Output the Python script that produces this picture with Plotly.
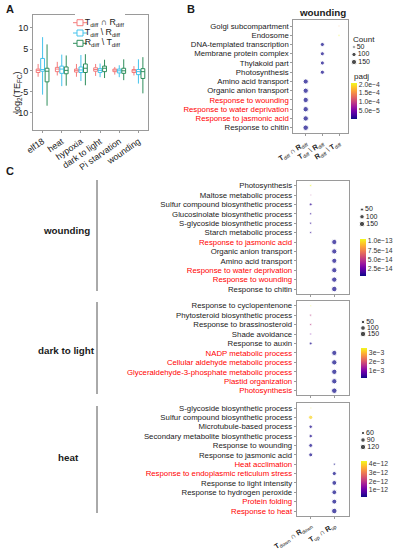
import plotly.graph_objects as go
import math

W, H = 394, 550
FONT = "Liberation Sans, Arial, sans-serif"
FRAME = "#9a9a9a"
TXT = "#1a1a1a"
RED = "#ff0000"
TERM_FS = 7.8
ANGLE = -35
DOT_ANGLE = -32


def fx(px):
    return px / W


def fy(py):
    return 1 - py / H


# ---------------- Panel A data ----------------
conditions = ["elf18", "heat", "hypoxia", "dark to light", "Pi starvation", "wounding"]
set_labels = ["T<sub>diff</sub> ∩ R<sub>diff</sub>",
              "T<sub>diff</sub> \\ R<sub>diff</sub>",
              "R<sub>diff</sub> \\ T<sub>diff</sub>"]

inter_low = [-1.5, -1.2, -1.5, -1.3, -1.0, -1.2]
inter_q1 = [-0.5, -0.3, -0.4, -0.2, -0.3, -0.5]
inter_med = [0.0, 0.3, 0.0, 0.2, 0.1, -0.1]
inter_q3 = [0.3, 0.7, 0.3, 0.6, 0.3, 0.2]
inter_high = [1.5, 2.0, 1.5, 1.5, 0.8, 1.0]

tonly_low = [-5.7, -3.7, -2.5, -1.6, -1.6, -3.1]
tonly_q1 = [-0.2, -0.7, -0.5, -0.5, -0.6, -1.0]
tonly_med = [0.2, 0.3, 0.1, 0.0, -0.1, -0.3]
tonly_q3 = [2.8, 1.0, 0.8, 0.4, 0.3, 0.2]
tonly_high = [7.8, 3.7, 3.6, 1.6, 1.2, 2.6]

ronly_low = [-8.3, -3.6, -3.5, -1.8, -2.3, -5.4]
ronly_q1 = [-2.7, -0.8, -0.5, -0.3, -0.7, -1.9]
ronly_med = [-0.2, 0.0, 0.5, 0.5, -0.1, -0.3]
ronly_q3 = [0.5, 0.8, 1.5, 1.0, 0.5, 0.4]
ronly_high = [6.1, 3.5, 3.8, 2.5, 2.6, 3.1]

a_ticks = [-10, -5, 0, 5, 10]

# ---------------- Panel B data ----------------
b_sets = ["Tdiff∩Rdiff", "Tdiff\\Rdiff", "Rdiff\\Tdiff"]
b_set_labels = ["<b>T</b><sub>diff</sub> ∩ <b>R</b><sub>diff</sub>",
                "<b>T</b><sub>diff</sub> \\ <b>R</b><sub>diff</sub>",
                "<b>R</b><sub>diff</sub> \\ <b>T</b><sub>diff</sub>"]
b_terms = ["Golgi subcompartment", "Endosome", "DNA-templated transcription",
           "Membrane protein complex", "Thylakoid part", "Photosynthesis",
           "Amino acid transport", "Organic anion transport", "Response to wounding",
           "Response to water deprivation", "Response to jasmonic acid", "Response to chitin"]
b_group = ["Rdiff\\Tdiff", "Rdiff\\Tdiff", "Tdiff\\Rdiff", "Tdiff\\Rdiff", "Tdiff\\Rdiff",
           "Tdiff\\Rdiff", "Tdiff∩Rdiff", "Tdiff∩Rdiff", "Tdiff∩Rdiff", "Tdiff∩Rdiff",
           "Tdiff∩Rdiff", "Tdiff∩Rdiff"]
b_count = [38, 40, 95, 92, 95, 98, 150, 155, 160, 162, 160, 170]
b_padj = [1.6e-4, 2.07e-4, 1e-6, 2e-6, 2e-6, 2e-6, 1e-6, 1e-6, 1e-6, 1e-6, 1e-6, 1e-6]
b_red = [0, 0, 0, 0, 0, 0, 0, 0, 1, 1, 1, 0]
b_count_legend = [50, 100, 150]
b_cb_ticks = [5e-5, 1e-4, 1.5e-4, 2e-4]

# ---------------- Panel C data ----------------
c_sets = ["down", "up"]
c_set_labels = ["<b>T</b><sub>down</sub> ∩ <b>R</b><sub>down</sub>",
                "<b>T</b><sub>up</sub> ∩ <b>R</b><sub>up</sub>"]

cw_terms = ["Photosynthesis", "Maltose metabolic process", "Sulfur compound biosynthetic process",
            "Glucosinolate biosynthetic process", "S-glycoside biosynthetic process",
            "Starch metabolic process", "Response to jasmonic acid", "Organic anion transport",
            "Amino acid transport", "Response to water deprivation", "Response to wounding",
            "Response to chitin"]
cw_group = ["down"] * 6 + ["up"] * 6
cw_count = [28, 25, 42, 30, 30, 28, 150, 145, 140, 150, 155, 165]
cw_padj = [1.05e-13, 4.5e-14, 1.2e-14, 1.2e-14, 1.2e-14, 1.2e-14,
           7e-15, 7e-15, 7e-15, 7e-15, 7e-15, 7e-15]
cw_red = [0, 0, 0, 0, 0, 0, 1, 0, 0, 1, 1, 0]
cw_count_legend = [50, 100, 150]
cw_cb_ticks = [2.5e-14, 5e-14, 7.5e-14, 1e-13]

cd_terms = ["Response to cyclopentenone", "Phytosteroid biosynthetic process",
            "Response to brassinosteroid", "Shade avoidance", "Response to auxin",
            "NADP metabolic process", "Cellular aldehyde metabolic process",
            "Glyceraldehyde-3-phosphate metabolic process", "Plastid organization",
            "Photosynthesis"]
cd_group = ["down"] * 5 + ["up"] * 5
cd_count = [15, 18, 18, 16, 30, 130, 140, 140, 140, 150]
cd_padj = [3.55e-3, 1.7e-3, 1.7e-3, 1.0e-3, 3e-4, 2.2e-4, 2.2e-4, 2.2e-4, 2.2e-4, 2.2e-4]
cd_red = [0, 0, 0, 0, 0, 1, 1, 1, 1, 1]
cd_count_legend = [50, 100, 150]
cd_cb_ticks = [1e-3, 2e-3, 3e-3]

ch_terms = ["S-glycoside biosynthetic process", "Sulfur compound biosynthetic process",
            "Microtubule-based process", "Secondary metabolite biosynthetic process",
            "Response to wounding", "Response to jasmonic acid", "Heat acclimation",
            "Response to endoplasmic reticulum stress", "Response to light intensity",
            "Response to hydrogen peroxide", "Protein folding", "Response to heat"]
ch_group = ["down"] * 6 + ["up"] * 6
ch_count = [45, 85, 65, 65, 75, 75, 48, 80, 100, 100, 105, 125]
ch_padj = [4.3e-12, 4.0e-12, 3e-13, 3e-13, 2.5e-13, 2.5e-13,
           2e-13, 2e-13, 2e-13, 2e-13, 2e-13, 2e-13]
ch_red = [0, 0, 0, 0, 0, 0, 1, 1, 0, 0, 1, 1]
ch_count_legend = [60, 90, 120]
ch_cb_ticks = [1e-12, 2e-12, 3e-12, 4e-12]

# ---------------- figure ----------------
fig = go.Figure()
layout_axes = {}
annotations = []
shapes = []

# ----- Panel A -----
a_colors = ["#f47c7c", "#45c3ec", "#2f8e5c"]
a_stats = [
    (inter_low, inter_q1, inter_med, inter_q3, inter_high),
    (tonly_low, tonly_q1, tonly_med, tonly_q3, tonly_high),
    (ronly_low, ronly_q1, ronly_med, ronly_q3, ronly_high),
]
for k, (lo, q1, md, q3, hi) in enumerate(a_stats):
    fig.add_trace(go.Box(
        x=conditions, lowerfence=lo, q1=q1, median=md, q3=q3, upperfence=hi,
        name=set_labels[k], offsetgroup=str(k), fillcolor="white",
        line=dict(color=a_colors[k], width=1), marker=dict(color=a_colors[k]),
        whiskerwidth=0, boxpoints=False, showlegend=False, hoverinfo="skip",
        xaxis="x", yaxis="y"))

layout_axes["xaxis"] = dict(domain=[fx(33), fx(148)], anchor="y", showgrid=False, zeroline=False,
                            showline=True, mirror=True, linecolor=FRAME, linewidth=1,
                            ticks="outside", ticklen=2, tickcolor=FRAME, tickangle=ANGLE,
                            tickfont=dict(size=8.8, color=TXT), categoryorder="array",
                            categoryarray=conditions)
layout_axes["yaxis"] = dict(domain=[fy(130), fy(15)], anchor="x", range=[-14, 13],
                            tickvals=a_ticks, ticktext=[str(t) for t in a_ticks],
                            showgrid=False, zeroline=False, showline=True, mirror=True,
                            linecolor=FRAME, linewidth=1, ticks="outside", ticklen=2,
                            tickcolor=FRAME, tickfont=dict(size=9, color=TXT))

annotations.append(dict(text="log<sub>2</sub>(TE<sub>FC</sub>)", x=fx(10), y=fy(70), xref="paper",
                        yref="paper", showarrow=False, textangle=-90,
                        font=dict(size=9, color=TXT)))


def next_axes(i):
    return "xaxis%d" % i, "yaxis%d" % i, "x%d" % i, "y%d" % i


def small_axes(ax, x_px, left_pad, right_pad, y_first, y_last, n):
    """Invisible helper axes, 5 px per x unit, item 0 at y_first (top)."""
    xk, yk, xr, yr = next_axes(ax)
    s = (y_last - y_first) / (n - 1)
    x0 = max(0, x_px - left_pad)
    x1 = min(W, x_px + right_pad)
    layout_axes[xk] = dict(domain=[fx(x0), fx(x1)], range=[(x0 - x_px) / 5, (x1 - x_px) / 5],
                           visible=False, anchor=yr, fixedrange=True)
    layout_axes[yk] = dict(domain=[fy(y_last + s), fy(y_first - s)], range=[-1, n],
                           visible=False, anchor=xr, fixedrange=True)
    return xr, yr, [n - 1 - i for i in range(n)]


# ----- legend for A (drawn on its own small axes) -----
def a_legend(ax, x_px, y_first, y_last):
    n = len(set_labels)
    xr, yr, ys = small_axes(ax, x_px, 5, 45, y_first, y_last, n)
    for i in range(n):
        fig.add_trace(go.Scatter(x=[0], y=[ys[i]], mode="markers", xaxis=xr, yaxis=yr,
                                 marker=dict(symbol="line-ew", size=10,
                                             line=dict(color=a_colors[i], width=1)),
                                 showlegend=False, hoverinfo="skip", cliponaxis=False))
        fig.add_trace(go.Scatter(x=[0], y=[ys[i]], mode="markers+text", xaxis=xr, yaxis=yr,
                                 marker=dict(symbol="square", size=6, color="white",
                                             line=dict(color=a_colors[i], width=1)),
                                 text=[set_labels[i]], textposition="middle right",
                                 textfont=dict(size=8.8, color=TXT),
                                 showlegend=False, hoverinfo="skip", cliponaxis=False))


a_legend(6, 80, 22.7, 43.3)


# ----- dot panels -----
def dot_size(c, lo, hi):
    t = max(0.0, (c - lo) / (hi - lo))
    return 1.5 + 4.0 * math.sqrt(t)


def dot_panel(ax, terms, groups, sets, set_ticktext, counts, padj, red, frame, rows, cols,
              cb, show_x):
    xk, yk, xr, yr = next_axes(ax)
    fl, ft, fr, fb = frame
    r0, r1 = rows
    c0, c1 = cols
    n = len(terms)
    m = len(sets)
    sy = (r1 - r0) / (n - 1)
    sx = (c1 - c0) / (m - 1)
    yrng = [-(fb - r1) / sy, (n - 1) + (r0 - ft) / sy]
    xrng = [-(c0 - fl) / sx, (m - 1) + (fr - c1) / sx]
    ypos = [n - 1 - i for i in range(n)]
    xpos = [sets.index(g) for g in groups]
    lo, hi = min(counts), max(counts)
    sizes = [dot_size(c, lo, hi) for c in counts]
    ticktext = ['<span style="color:%s">%s</span>' % (RED, t) if r else t
                for t, r in zip(terms, red)]
    cmin, cmax, ticks, fmt, cbx, cbtop, cbbot = cb
    fig.add_trace(go.Scatter(
        x=xpos, y=ypos, mode="markers", xaxis=xr, yaxis=yr, showlegend=False,
        hoverinfo="skip",
        marker=dict(size=sizes, color=padj, colorscale="Plasma", cmin=cmin, cmax=cmax,
                    showscale=True,
                    colorbar=dict(x=fx(cbx), xanchor="left", y=fy(cbtop), yanchor="top",
                                  len=cbbot - cbtop, lenmode="pixels", thickness=6,
                                  xpad=0, ypad=0, outlinewidth=0, ticks="",
                                  tickvals=ticks, tickformat=fmt,
                                  tickfont=dict(size=6.8, color="#333333")))))
    layout_axes[xk] = dict(domain=[fx(fl), fx(fr)], anchor=yr, range=xrng,
                           tickvals=list(range(m)), ticktext=set_ticktext,
                           showticklabels=show_x, tickangle=DOT_ANGLE,
                           tickfont=dict(size=7.2, color=TXT),
                           showgrid=False, zeroline=False, showline=True, mirror=True,
                           linecolor=FRAME, linewidth=1, ticks="outside", ticklen=2,
                           tickcolor=FRAME)
    layout_axes[yk] = dict(domain=[fy(fb), fy(ft)], anchor=xr, range=yrng,
                           tickvals=ypos, ticktext=ticktext,
                           tickfont=dict(size=TERM_FS, color=TXT),
                           showgrid=False, zeroline=False, showline=True, mirror=True,
                           linecolor=FRAME, linewidth=1, ticks="outside", ticklen=2,
                           tickcolor=FRAME)
    return lo, hi


def size_legend(ax, values, lo, hi, x_px, y_first, y_last):
    n = len(values)
    xr, yr, ys = small_axes(ax, x_px, 5, 25, y_first, y_last, n)
    fig.add_trace(go.Scatter(
        x=[0] * n, y=ys, mode="markers+text", xaxis=xr, yaxis=yr,
        marker=dict(size=[dot_size(v, lo, hi) for v in values], color="black"),
        text=[str(v) for v in values], textposition="middle right",
        textfont=dict(size=7, color=TXT), showlegend=False, hoverinfo="skip",
        cliponaxis=False))


# B
lo, hi = dot_panel(2, b_terms, b_group, b_sets, b_set_labels, b_count, b_padj, b_red,
                   frame=(293.3, 20, 348.3, 133.3), rows=(26, 127.7), cols=(305.7, 339),
                   cb=(0, 2.07e-4, b_cb_ticks, ".1e", 351, 83, 119), show_x=True)
size_legend(7, b_count_legend, lo, hi, 354, 47, 62)

# C wounding
lo, hi = dot_panel(3, cw_terms, cw_group, c_sets, c_set_labels, cw_count, cw_padj, cw_red,
                   frame=(296.7, 181, 348.5, 294), rows=(185.6, 289), cols=(310.7, 334.3),
                   cb=(6e-15, 1.05e-13, cw_cb_ticks, ".1e", 360, 239, 276), show_x=False)
size_legend(8, cw_count_legend, lo, hi, 362, 209.5, 224)

# C dark to light
lo, hi = dot_panel(4, cd_terms, cd_group, c_sets, c_set_labels, cd_count, cd_padj, cd_red,
                   frame=(296.7, 301, 348.5, 394.5), rows=(305.7, 390.7), cols=(310.7, 334.3),
                   cb=(2.2e-4, 3.55e-3, cd_cb_ticks, ".0e", 361, 348, 378), show_x=False)
size_legend(9, cd_count_legend, lo, hi, 363, 322, 334)

# C heat
lo, hi = dot_panel(5, ch_terms, ch_group, c_sets, c_set_labels, ch_count, ch_padj, ch_red,
                   frame=(296.7, 402.7, 348.5, 515.5), rows=(408, 511), cols=(310.7, 334.3),
                   cb=(2e-13, 4.35e-12, ch_cb_ticks, ".0e", 361, 461, 497), show_x=True)
size_legend(10, ch_count_legend, lo, hi, 363, 433, 447)


# ----- annotations / decorations -----
def ann(text, x, y, size, bold=False, xanchor="center", color=TXT):
    annotations.append(dict(text=("<b>%s</b>" % text) if bold else text, x=fx(x), y=fy(y),
                            xref="paper", yref="paper", showarrow=False, xanchor=xanchor,
                            yanchor="middle", font=dict(size=size, color=color)))


ann("A", 10, 9, 11, bold=True)
ann("B", 191, 9, 11, bold=True)
ann("C", 10, 171, 11, bold=True)
ann("wounding", 322.5, 12.5, 9.8, bold=True)
ann("Count", 351, 39, 8, xanchor="left")
ann("padj", 352, 76, 8, xanchor="left")
ann("wounding", 66, 230, 9.8, bold=True)
ann("dark to light", 66, 350, 9.8, bold=True)
ann("heat", 68, 457, 9.8, bold=True)

for y0, y1 in [(180, 291), (302, 394), (406, 513)]:
    shapes.append(dict(type="line", xref="paper", yref="paper", x0=fx(97), x1=fx(97),
                       y0=fy(y0), y1=fy(y1), line=dict(color="#555555", width=1)))

fig.update_layout(
    width=W, height=H, autosize=False,
    margin=dict(l=0, r=0, t=0, b=0, pad=0, autoexpand=False),
    paper_bgcolor="white", plot_bgcolor="white",
    font=dict(family=FONT, size=8, color=TXT),
    boxmode="group", boxgap=0.3, boxgroupgap=0.15,
    showlegend=False,
    annotations=annotations, shapes=shapes,
    **layout_axes)

fig.write_html("out.html",
               config={"displayModeBar": False, "staticPlot": True},
               post_script="document.body.style.margin='0px';"
                           "document.body.style.overflow='hidden';")
